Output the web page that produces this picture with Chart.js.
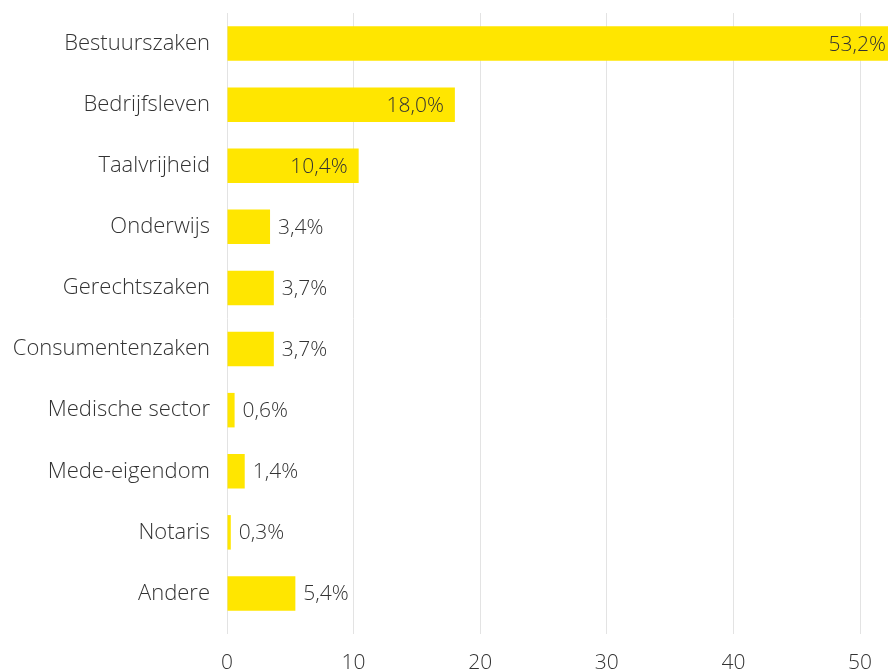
<!DOCTYPE html>
<html>
<head>
<meta charset="utf-8">
<script src="https://cdn.jsdelivr.net/npm/chart.js@4/dist/chart.umd.min.js"></script>
<style>
  html, body { margin: 0; padding: 0; background: #fff; }
  #wrap { width: 888px; height: 670px; position: relative; }
</style>
</head>
<body>
<div id="wrap"><canvas id="barChart"></canvas></div>
<script>
var categories = [
  "Bestuurszaken", "Bedrijfsleven", "Taalvrijheid", "Onderwijs", "Gerechtszaken",
  "Consumentenzaken", "Medische sector", "Mede-eigendom", "Notaris", "Andere"
];
var percentages = [53.2, 18.0, 10.4, 3.4, 3.7, 3.7, 0.6, 1.4, 0.3, 5.4];
var xTicks = [0, 10, 20, 30, 40, 50];

(function () {
  var textColor = "#333333";
  var fontFamily = "'Open Sans', 'Noto Sans', sans-serif";

  function fmt(v) {
    return v.toFixed(1).replace(".", ",") + "%";
  }

  // value labels: inside the bar for the big ones, right after it otherwise
  var valueLabels = {
    id: "valueLabels",
    afterDatasetsDraw: function (chart) {
      var ctx = chart.ctx;
      var meta = chart.getDatasetMeta(0);
      ctx.save();
      ctx.font = "300 21px " + fontFamily;
      ctx.fillStyle = textColor;
      ctx.textBaseline = "middle";
      meta.data.forEach(function (bar, i) {
        var v = percentages[i];
        if (v >= 10) {
          ctx.textAlign = "right";
          ctx.fillText(fmt(v), Math.min(bar.x - 11, chart.width - 2), bar.y + 1);
        } else {
          ctx.textAlign = "left";
          ctx.fillText(fmt(v), bar.x + 8, bar.y + 1);
        }
      });
      ctx.restore();
    },
  };

  new Chart(document.getElementById("barChart"), {
    type: "bar",
    data: {
      labels: categories,
      datasets: [
        {
          data: percentages,
          backgroundColor: "#FFE600",
          borderWidth: 0,
          categoryPercentage: 0.565,
          barPercentage: 1,
          clip: false,
        },
      ],
    },
    options: {
      indexAxis: "y",
      responsive: true,
      maintainAspectRatio: false,
      animation: false,
      layout: { padding: 0 },
      plugins: { legend: { display: false }, tooltip: { enabled: false } },
      scales: {
        x: {
          min: 0,
          max: 52.05,
          afterBuildTicks: function (scale) {
            scale.ticks = xTicks.map(function (v) { return { value: v }; });
          },
          afterFit: function (scale) { scale.height = 46; },
          grid: { color: "#e3e3e3", lineWidth: 1, drawTicks: true, tickLength: 10 },
          border: { display: false },
          ticks: {
            color: textColor,
            padding: 16,
            font: { family: fontFamily, size: 21, weight: 300 },
          },
        },
        y: {
          afterFit: function (scale) {
            scale.width = 227;
            scale.paddingTop = 13;
            scale.paddingBottom = 0;
          },
          grid: { display: false },
          border: { display: false },
          ticks: {
            color: textColor,
            padding: 9,
            font: { family: fontFamily, size: 22, weight: 300 },
          },
        },
      },
    },
    plugins: [valueLabels],
  });
})();
</script>
</body>
</html>
